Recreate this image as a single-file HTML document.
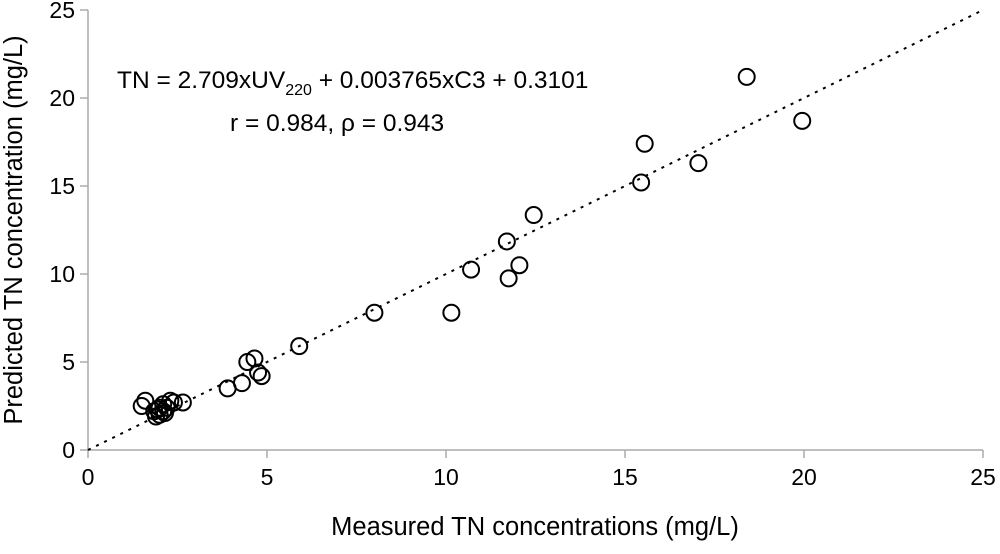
<!DOCTYPE html>
<html><head><meta charset="utf-8"><style>
body{margin:0;background:#fff}
svg text{font-family:"Liberation Sans",Arial,sans-serif;fill:#000}
</style></head><body>
<svg width="1000" height="549" viewBox="0 0 1000 549">
<g id="axes"></g>
<g id="marks"></g>
<text x="117" y="88" font-size="24.5">TN = 2.709xUV<tspan font-size="16" dy="7">220</tspan><tspan dy="-7"> + 0.003765xC3 + 0.3101</tspan></text>
<text x="230" y="131" font-size="24.5">r = 0.984, ρ = 0.943</text>
<text x="535" y="535" font-size="25.5" text-anchor="middle">Measured TN concentrations (mg/L)</text>
<text transform="translate(22,230) rotate(-90)" font-size="25.5" text-anchor="middle">Predicted TN concentration (mg/L)</text>
</svg>
<script>
const measured=[1.5,1.6,1.85,1.9,2.0,2.1,2.0,2.1,2.2,2.3,2.4,2.65,1.95,2.15,3.9,4.3,4.45,4.65,4.75,4.85,5.9,8.0,10.15,10.7,11.7,11.75,12.05,12.45,15.45,15.55,17.05,18.4,19.95];
const predicted=[2.5,2.8,2.2,1.9,2.4,2.6,2.0,2.2,2.4,2.8,2.7,2.7,2.3,2.1,3.5,3.8,5.0,5.2,4.4,4.2,5.9,7.8,7.8,10.25,11.85,9.75,10.5,13.35,15.2,17.4,16.3,21.2,18.7];
const xTicks=[0,5,10,15,20,25];
const yTicks=[0,5,10,15,20,25];
const X0=88,X1=983,Y0=450,Y1=10;
const sx=v=>X0+(X1-X0)*v/25, sy=v=>Y0-(Y0-Y1)*v/25;
const NS="http://www.w3.org/2000/svg";
const axes=document.getElementById('axes'),marks=document.getElementById('marks');
function mk(tag,attrs,parent){const e=document.createElementNS(NS,tag);for(const k in attrs)e.setAttribute(k,attrs[k]);parent.appendChild(e);return e;}
let l=mk('line',{x1:X0,y1:Y0,x2:X1,y2:Y0,stroke:'#aaa','stroke-width':1.5},axes);


l=mk('line',{x1:X0,y1:Y0,x2:X0,y2:Y1,stroke:'#aaa','stroke-width':1.5},axes);


xTicks.forEach(t=>{
 const tk=mk('line',{x1:sx(t),y1:Y0,x2:sx(t),y2:Y0+8,stroke:'#aaa','stroke-width':1.5},axes);
 
 
 const tx=mk('text',{x:sx(t),y:Y0+35,'font-size':23,'text-anchor':'middle'},axes);
 tx.textContent=t;
 
 
});
yTicks.forEach(t=>{
 const tk=mk('line',{x1:X0-8,y1:sy(t),x2:X0,y2:sy(t),stroke:'#aaa','stroke-width':1.5},axes);
 
 
 const tx=mk('text',{x:X0-13,y:sy(t)+8,'font-size':23,'text-anchor':'end'},axes);
 tx.textContent=t;
 
 
});
const ln=mk('line',{x1:sx(0),y1:sy(0),x2:sx(25),y2:sy(25),stroke:'#000','stroke-width':2,'stroke-dasharray':'3,6'},marks);


measured.forEach((m,i)=>{
 const c=mk('circle',{cx:sx(m),cy:sy(predicted[i]),r:8,fill:'none',stroke:'#000','stroke-width':2},marks);
 
 
});
</script>
</body></html>
